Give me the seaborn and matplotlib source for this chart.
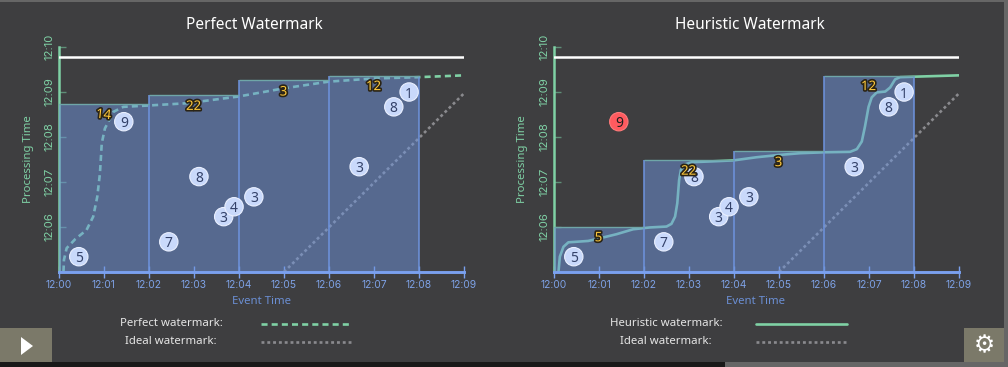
import matplotlib
matplotlib.use("Agg")
import matplotlib.pyplot as plt
import matplotlib.patheffects as pe
from matplotlib.lines import Line2D
from matplotlib.patches import Polygon, Rectangle
import pandas as pd
import seaborn as sns

# all times are minutes after 12:00
window_starts = [0, 2, 4, 6]
window_width = 2
perfect_tops = [8.73, 8.93, 9.26, 9.36]
heuristic_tops = [6.0, 7.5, 7.68, 9.36]

point_x = [0.44, 1.44, 2.44, 3.11, 3.66, 3.89, 4.33, 6.67, 7.44, 7.78]
point_y = [5.34, 8.34, 5.67, 7.12, 6.23, 6.45, 6.67, 7.34, 8.67, 9.0]
point_n = [5, 9, 7, 8, 3, 4, 3, 3, 8, 1]

perfect_x = [.10, .11, .17, .36, .61, .76, .85, .91, .95, 1.02, 1.21, 1.43, 1.99, 2.84, 3.99, 4.99, 5.99, 6.99, 8.0, 9.0]
perfect_y = [5.01, 5.27, 5.53, 5.73, 5.93, 6.23, 6.67, 7.19, 7.86, 8.19, 8.56, 8.67, 8.70, 8.75, 8.90, 9.08, 9.23, 9.30, 9.33, 9.37]
heuristic_x = [.10, .13, .21, .32, .47, .76, 1.02, 1.39, 1.76, 2.13, 2.5, 2.61, 2.69, 2.74, 2.78, 2.82, 2.91, 3.06, 3.54, 3.99,
               4.5, 4.99, 5.47, 5.99, 6.58, 6.73, 6.84, 6.91, 6.99, 7.06, 7.17, 7.36, 7.47, 7.58, 7.69, 8.0, 9.0]
heuristic_y = [5.01, 5.34, 5.56, 5.66, 5.67, 5.69, 5.75, 5.84, 5.95, 5.99, 6.01, 6.07, 6.23, 6.53, 7.04, 7.27, 7.39, 7.44, 7.46, 7.48,
               7.55, 7.6, 7.64, 7.66, 7.67, 7.73, 7.9, 8.23, 8.67, 8.88, 8.99, 9.01, 9.1, 9.28, 9.33, 9.34, 9.37]
ideal_x = [5, 9]
ideal_y = [5, 8.97]
now_x = [0, 9]
now_y = [9.78, 9.78]

perfect_badges = [(.99, 8.49, "14"), (2.99, 8.68, "22"), (4.99, 9.0, "3"), (6.99, 9.12, "12")]
heuristic_badges = [(.99, 5.76, "5"), (2.99, 7.24, "22"), (4.99, 7.43, "3"), (6.99, 9.12, "12")]

x_ticks = list(range(10))
x_labels = ["12:00", "12:01", "12:02", "12:03", "12:04", "12:05", "12:06", "12:07", "12:08", "12:09"]
y_ticks = [6, 7, 8, 9, 10]
y_labels = ["12:06", "12:07", "12:08", "12:09", "12:10"]

BG = "#3e3e40"
GREEN = "#7fd1a5"
BLUE = "#6e94de"
W, H = 1008, 367
DOTS = (0, (1.1, 1.1))

sns.set_theme(style="dark", rc={"figure.facecolor": BG, "axes.facecolor": BG, "savefig.facecolor": BG})
plt.rcParams["font.family"] = ["Noto Sans", "DejaVu Sans"]

fig = plt.figure(figsize=(W / 100, H / 100), dpi=100)


def px_rect(x, y, w, h, color):
    # y counted from the top of the picture
    fig.patches.append(Rectangle((x / W, 1 - (y + h) / H), w / W, h / H, transform=fig.transFigure, color=color, lw=0))


def draw_panel(left, title, tops, wm_x, wm_y, wm_style, badges, late_nine, wm_name):
    ax = fig.add_axes([left / W, (H - 272) / H, 405 / W, 225 / H])
    ax.set_xlim(0, 9)
    ax.set_ylim(5, 10)
    ax.patch.set_alpha(0)

    for name in ["top", "right"]:
        ax.spines[name].set_visible(False)
    ax.spines["left"].set(color=GREEN, linewidth=1.8, zorder=1.5)
    ax.spines["bottom"].set(color="#7aa0ee", linewidth=2.1, zorder=4)

    sns.lineplot(x=ideal_x, y=ideal_y, ax=ax, color="#8a8a8e", lw=1.9, zorder=2, linestyle=DOTS)
    sns.lineplot(x=wm_x, y=wm_y, ax=ax, color=GREEN, lw=1.9, zorder=2.2, linestyle=wm_style, sort=False, estimator=None)
    sns.lineplot(x=now_x, y=now_y, ax=ax, color="white", lw=1.8, zorder=2.4)

    ax.bar(window_starts, [t - 5 for t in tops], width=window_width, bottom=5, align="edge",
           color=(110 / 255, 148 / 255, 222 / 255, .5), edgecolor="none", zorder=3)
    ax.vlines(window_starts[1:] + [8], 5, tops[1:] + [tops[-1]], color=BLUE, lw=1.1, zorder=3.1)
    for s, t in zip(window_starts, tops):
        ax.hlines(t, s, s + window_width, color="#6fa6a8", lw=1, zorder=3.1)

    df = pd.DataFrame({"x": point_x, "y": point_y, "n": point_n})
    colors = ["#ff5a5f" if (late_nine and n == 9) else "#c9d9fb" for n in df["n"]]
    edges = ["#ff7a7a" if (late_nine and n == 9) else "#eaf0ff" for n in df["n"]]
    sns.scatterplot(data=df, x="x", y="y", ax=ax, s=175, c=colors, edgecolor=edges, linewidth=.8, zorder=5, clip_on=False)
    for x, y, n in zip(df["x"], df["y"], df["n"]):
        col = "#202020" if (late_nine and n == 9) else "#34426a"
        ax.text(x, y, str(n), ha="center", va="center_baseline", fontsize=10, fontweight="bold", color=col, zorder=6)

    for x, y, s in badges:
        ax.text(x, y, s, ha="center", va="center", fontsize=9.5, fontweight="bold", color="#ffc93c", zorder=7,
                rotation=-6 if s == "14" else 0,
                path_effects=[pe.withStroke(linewidth=2.4, foreground="#2a2416")])

    ax.set_xticks(x_ticks, x_labels, fontfamily="Inter", fontsize=7.4, color="#7ea2e6")
    ax.set_yticks(y_ticks, y_labels, fontfamily="Inter", fontsize=8.2, color=GREEN, rotation=90, va="center")
    ax.tick_params(axis="x", length=8, width=1, direction="inout", color="#7aa0ee", pad=2, bottom=True)
    ax.tick_params(axis="y", length=5, width=1, direction="in", color="#5f8f78", pad=3, left=True)
    ax.set_xlabel("")
    ax.set_ylabel("")

    cx = left + 202
    fig.text((left + 195.5) / W, 1 - 25 / H, title, ha="center", va="center", fontsize=11.1, color="white")
    fig.text(cx / W, 1 - 302 / H, "Event Time", ha="center", va="center", fontsize=8.2, color="#6b8fd4")
    fig.text((left - 31) / W, 1 - 159 / H, "Processing Time", ha="center", va="center", rotation=90, fontsize=8.2, color=GREEN)

    lx = left + 112
    fig.text(lx / W, 1 - 323 / H, wm_name + " watermark:", ha="center", va="center", fontsize=8.2, color="#e6e6e6")
    fig.text(lx / W, 1 - 342 / H, "Ideal watermark:", ha="center", va="center", fontsize=8.2, color="#e6e6e6")
    fig.add_artist(Line2D([(left + 202) / W, (left + 293) / W], [1 - 323.5 / H] * 2, color=GREEN, lw=1.9, linestyle=wm_style, transform=fig.transFigure))
    fig.add_artist(Line2D([(left + 202) / W, (left + 293) / W], [1 - 342 / H] * 2, color="#8a8a8e", lw=1.9, linestyle=DOTS, transform=fig.transFigure))
    return ax


draw_panel(59, "Perfect Watermark", perfect_tops, perfect_x, perfect_y, (0, (2.3, 1.55)), perfect_badges, False, "Perfect")
draw_panel(554, "Heuristic Watermark", heuristic_tops, heuristic_x, heuristic_y, "-", heuristic_badges, True, "Heuristic")

# frame strips and player buttons around the charts
px_rect(0, 0, W, 2, "#666666")
px_rect(0, 362, 725, 5, "#191919")
px_rect(725, 362, W - 725, 5, "#666666")
px_rect(1004, 0, 4, H, "#666666")
px_rect(0, 328, 52, 34, "#7b7969")
px_rect(964, 328, 40, 34, "#7b7969")
fig.patches.append(Polygon([(21 / W, 1 - 337 / H), (21 / W, 1 - 355 / H), (33 / W, 1 - 346 / H)],
                           transform=fig.transFigure, color="white", lw=0))
fig.text(984 / W, 1 - 345 / H, "\u2699", ha="center", va="center", fontsize=17, color="white", fontfamily="DejaVu Sans")

fig.savefig("out.png", dpi=100)
